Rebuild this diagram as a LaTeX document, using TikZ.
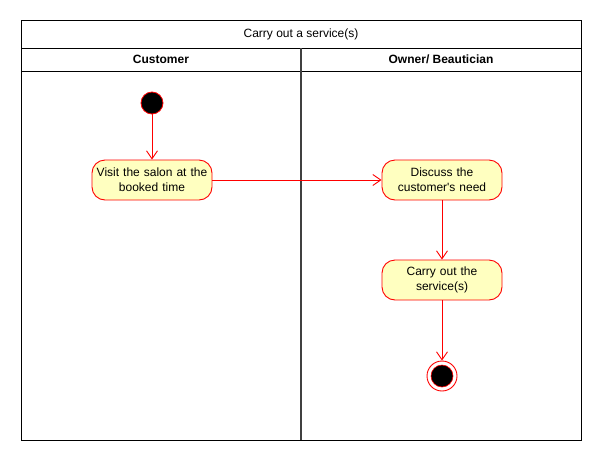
\documentclass[tikz,border=0pt]{standalone}
\usepackage{fontspec}
\setmainfont{Liberation Sans}
\usetikzlibrary{arrows.meta}
\definecolor{actfill}{HTML}{FFFFC0}
\definecolor{actline}{HTML}{FF0000}
\definecolor{lanegray}{HTML}{404040}
\tikzset{
  activity/.style={draw=actline, fill=actfill, rounded corners=13pt, minimum width=120pt, minimum height=40pt, align=center, text width=116pt, font=\fontsize{12}{15}\selectfont, inner sep=0pt, line width=0.9pt},
  flow/.style={draw=actline, line width=0.9pt, -{Straight Barb[length=8pt,width=11pt,line width=0.9pt]}},
  lanehead/.style={font=\fontsize{12}{14}\selectfont\bfseries},
  frame/.style={draw=black, line width=1pt},
}
\begin{document}
\begin{tikzpicture}[x=1pt,y=-1pt]
\useasboundingbox (0,0) rectangle (602,461);
\fill[white] (0,0) rectangle (602,461);
% pool frame
\draw[frame] (21,20) rectangle (581,440);
\draw[frame] (21,48) -- (581,48);
\draw[frame] (21,71) -- (581,71);
\draw[draw=lanegray, line width=1.5pt] (301,48) -- (301,440);
\node[font=\fontsize{12}{14}\selectfont] (title) at (301,34) {Carry out a service(s)};
\node[lanehead] (cust) at (161,59.5) {Customer};
\node[lanehead] (owner) at (441,59.5) {Owner/ Beautician};
% nodes
\node[circle, fill=black, draw=actline, line width=0.8pt, minimum size=22pt, inner sep=0pt] (start) at (152,103) {};
\node[activity] (visit) at (152,180) {Visit the salon at the\\booked time};
\node[activity] (discuss) at (442,180) {Discuss the\\customer\textquotesingle s need};
\node[activity] (carry) at (442,280) {Carry out the\\service(s)};
\node[circle, draw=actline, fill=white, line width=0.9pt, minimum size=30pt, inner sep=0pt] (end) at (442,376) {};
\node[circle, fill=black, draw=actline, line width=0.6pt, minimum size=22pt, inner sep=0pt] (endin) at (end) {};
% flows
\draw[flow] (start) -- (visit);
\draw[flow] (visit) -- (discuss);
\draw[flow] (discuss) -- (carry);
\draw[flow] (carry) -- (end);
\end{tikzpicture}
\end{document}
